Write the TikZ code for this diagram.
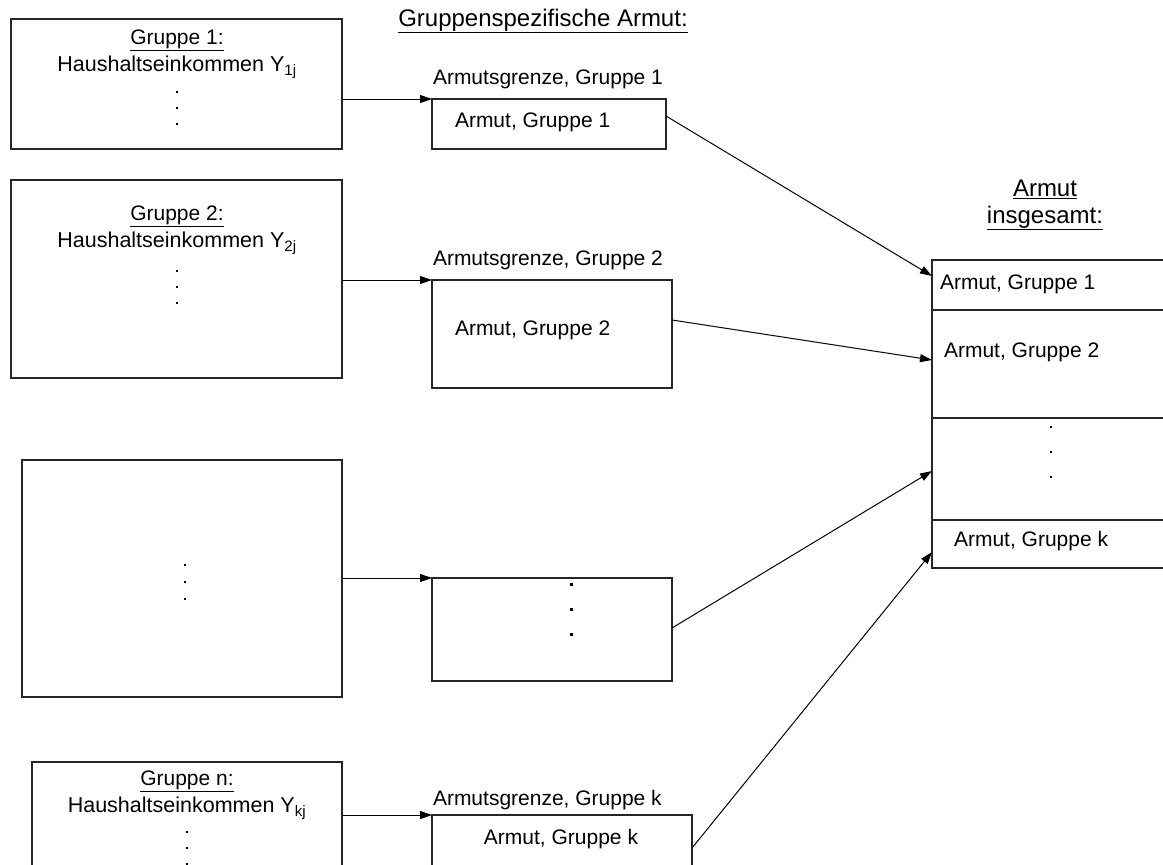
\documentclass[tikz,border=0pt]{standalone}
\usepackage{fontspec}
\setmainfont{Liberation Sans}
\usetikzlibrary{arrows.meta,calc}
\begin{document}
\begin{tikzpicture}[x=1pt,y=-1pt,
  font=\fontsize{21}{25}\selectfont,
  box/.style={draw=black!85, line width=1.3pt, inner sep=0pt, outer sep=0pt, anchor=north west},
  lbl/.style={inner sep=0pt, outer sep=0pt},
  hh/.style={inner sep=0pt, outer sep=0pt, font=\fontsize{21.5}{26}\selectfont},
  head/.style={inner sep=0pt, outer sep=0pt, font=\fontsize{24}{28}\selectfont},
  conn/.style={line width=1pt, draw=black, -{Triangle[length=12pt,width=8pt]}},
  sq/.style={fill=black}]
\useasboundingbox (0,0) rectangle (1163,865);
\clip (0,0) rectangle (1163,865);
\fill[white] (0,0) rectangle (1163,865);
% left group boxes
\node[box, minimum width=331pt, minimum height=130pt] (g1) at (11,19) {};
\node[box, minimum width=331pt, minimum height=198pt] (g2) at (11,180) {};
\node[box, minimum width=320pt, minimum height=237pt] (g3) at (22,460) {};
\node[box, minimum width=310pt, minimum height=140pt] (gn) at (32,762) {};
% group-specific boxes
\node[box, minimum width=234pt, minimum height=50pt] (a1) at (432,99) {};
\node[box, minimum width=240pt, minimum height=108pt] (a2) at (432,280) {};
\node[box, minimum width=240pt, minimum height=103pt] (a3) at (432,578) {};
\node[box, minimum width=260pt, minimum height=80pt] (ak) at (432,815) {};
% total box
\node[box, minimum width=260pt, minimum height=308pt] (R) at (932,260) {};
\draw[black!85, line width=1.3pt] ($(R.north west)+(0,50)$) -- ++(260,0);
\draw[black!85, line width=1.3pt] ($(R.north west)+(0,158)$) -- ++(260,0);
\draw[black!85, line width=1.3pt] ($(R.north west)+(0,260)$) -- ++(260,0);
% texts left
\node[lbl] (t1a) at (177,40) {\underline{Gruppe 1:}};
\node[hh] (t1b) at (177,67) {Haushaltseinkommen Y\textsubscript{1j}};
\fill[sq] (176,91) rectangle ++(2.2,2.2);
\fill[sq] (176,107) rectangle ++(2.2,2.2);
\fill[sq] (176,123) rectangle ++(2.2,2.2);
\node[lbl] (t2a) at (177,216) {\underline{Gruppe 2:}};
\node[hh] (t2b) at (177,243) {Haushaltseinkommen Y\textsubscript{2j}};
\fill[sq] (176,270) rectangle ++(2.2,2.2);
\fill[sq] (176,286) rectangle ++(2.2,2.2);
\fill[sq] (176,302) rectangle ++(2.2,2.2);
\fill[sq] (184,564) rectangle ++(2.2,2.2);
\fill[sq] (184,581) rectangle ++(2.2,2.2);
\fill[sq] (184,598) rectangle ++(2.2,2.2);
\node[lbl] (tna) at (187,781) {\underline{Gruppe n:}};
\node[hh] (tnb) at (187,808) {Haushaltseinkommen Y\textsubscript{kj}};
\fill[sq] (186,831) rectangle ++(2.2,2.2);
\fill[sq] (186,847) rectangle ++(2.2,2.2);
\fill[sq] (186,863) rectangle ++(2.2,2.2);
% title
\node[head] (title) at (543,21) {\underline{Gruppenspezifische Armut:}};
% armutsgrenze labels
\node[lbl, anchor=west] (l1) at (433,79) {Armutsgrenze, Gruppe 1};
\node[lbl, anchor=west] (l2) at (433,260) {Armutsgrenze, Gruppe 2};
\node[lbl, anchor=west] (lk) at (433,800) {Armutsgrenze, Gruppe k};
% texts in group boxes
\node[lbl, anchor=west] (x1) at (455,122) {Armut, Gruppe 1};
\node[lbl, anchor=west] (x2) at (455,330) {Armut, Gruppe 2};
\node[lbl] (xk) at (561,839) {Armut, Gruppe k};
\fill[sq] (569.5,582.5) rectangle ++(3,3);
\fill[sq] (569.5,607.5) rectangle ++(3,3);
\fill[sq] (569.5,632.5) rectangle ++(3,3);
% total
\node[head] (ta) at (1045,189) {\underline{Armut}};
\node[head] (tb) at (1045,218) {\underline{insgesamt:}};
\node[lbl, anchor=west] (r1) at (940,284) {Armut, Gruppe 1};
\node[lbl, anchor=west] (r2) at (944,352) {Armut, Gruppe 2};
\fill[sq] (1050,426) rectangle ++(2.2,2.2);
\fill[sq] (1050,451) rectangle ++(2.2,2.2);
\fill[sq] (1050,476) rectangle ++(2.2,2.2);
\node[lbl, anchor=west] (rk) at (954,541) {Armut, Gruppe k};
% connectors
\draw[conn] (a1.north west -| g1.east) -- (a1.north west);
\draw[conn] (a2.north west -| g2.east) -- (a2.north west);
\draw[conn] (a3.north west -| g3.east) -- (a3.north west);
\draw[conn] (ak.north west -| gn.east) -- (ak.north west);
\draw[conn] ([yshift=-17pt]a1.north east) -- ([yshift=-16pt]R.north west);
\draw[conn] ([yshift=-40pt]a2.north east) -- ([yshift=-100pt]R.north west);
\draw[conn] ([yshift=-50pt]a3.north east) -- ([yshift=-211pt]R.north west);
\draw[conn] ([yshift=-33pt]ak.north east) -- ([yshift=-292pt]R.north west);
\end{tikzpicture}
\end{document}
